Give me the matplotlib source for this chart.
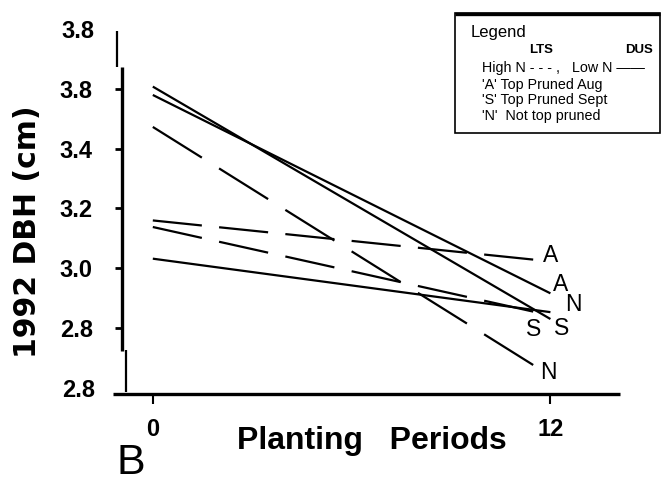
import matplotlib
matplotlib.use("Agg")
import math
import matplotlib.pyplot as plt
from matplotlib.lines import Line2D
from matplotlib.patches import Rectangle

# ---------------- data ----------------
periods = [0, 12]
# LTS (High N, dashed)
lts_A = [3.160, 3.023]
lts_S = [3.138, 2.842]
lts_N = [3.473, 2.640]
# DUS (Low N, solid)
dus_A = [3.580, 2.916]
dus_S = [3.608, 2.830]
dus_N = [3.032, 2.853]

ytick_vals = [3.6, 3.4, 3.2, 3.0, 2.8]
ytick_labels = ["3.8", "3.4", "3.2", "3.0", "2.8"]
yminor_vals = [3.8, 2.6]
yminor_labels = ["3.8", "2.8"]
xtick_vals = [0, 12]
xtick_labels = ["0", "12"]

W, H, DPI = 661, 484, 100
plt.rcParams['lines.scale_dashes'] = False
fig = plt.figure(figsize=(W / DPI, H / DPI), dpi=DPI)

def fx(px):
    return px / W

def fy(py):
    return 1 - py / H

ax_left, ax_right, ax_top, ax_bot = 122, 620, 29.25, 394
ax = fig.add_axes([fx(ax_left), fy(ax_bot), (ax_right - ax_left) / W, (ax_bot - ax_top) / H])
ax.set_xlim(-0.93, 14.1)
ax.set_ylim(2.579, 3.8)
for s in ax.spines.values():
    s.set_visible(False)

lw = 1.6
tick_font = dict(family="Liberation Sans", weight="bold", size=17)

# lines
ax.plot(periods, dus_A, color="black", lw=lw, solid_capstyle="butt")
ax.plot(periods, dus_S, color="black", lw=lw, solid_capstyle="butt")
ax.plot(periods, dus_N, color="black", lw=lw, solid_capstyle="butt")
dashed = []
for ys in (lts_A, lts_S, lts_N):
    ln, = ax.plot(periods, ys, color="black", lw=lw, dash_capstyle="butt")
    dashed.append(ln)

# dash pattern: 6 periods spread over the x-span (as in the scan)
fig.canvas.draw()
for ln in dashed:
    xd, yd = ln.get_data()
    p0 = ax.transData.transform((xd[0], yd[0]))
    p1 = ax.transData.transform((xd[1], yd[1]))
    length_px = math.hypot(p1[0] - p0[0], p1[1] - p0[1])
    period_pt = length_px / 6 * 72 / DPI
    ln.set_linestyle((0, (period_pt * 0.74, period_pt * 0.26)))

# end labels
lab_font = dict(family="Liberation Sans", size=16.5)
def lab(text, x, y, dx, dy):
    ax.annotate(text, (x, y), xytext=(dx * 0.72, -dy * 0.72), textcoords="offset points",
                ha="center", va="center", **lab_font)

lab("A", 12, lts_A[1], 0, -6)
lab("A", 12, dus_A[1], 10, -9)
lab("N", 12, dus_N[1], 23, -8)
lab("S", 12, dus_S[1], 11, 9)
lab("S", 12, lts_S[1], -17, 14)
lab("N", 12, lts_N[1], -2, -3)

# ticks
ax.set_yticks(ytick_vals, ytick_labels, **tick_font)
ax.set_yticks(yminor_vals, yminor_labels, minor=True, **tick_font)
ax.tick_params(axis="y", which="major", direction="out", length=5, width=2, pad=16)
ax.tick_params(axis="y", which="minor", length=0, pad=16 + 5 * 0.72)
ax.set_xticks(xtick_vals, xtick_labels, **tick_font)
ax.tick_params(axis="x", which="major", direction="out", length=7, width=1.5, pad=10)

# axis labels
ax.set_xlabel("Planting   Periods", family="Liberation Sans", weight="bold", size=23, va="baseline")
ax.xaxis.set_label_coords((372 - ax_left) / (ax_right - ax_left), (ax_bot - 449) / (ax_bot - ax_top))
ax.set_ylabel("1992 DBH (cm)", family="DejaVu Sans", weight="bold", size=21.5, va="center", ha="center")
ax.yaxis.set_label_coords((28 - ax_left) / (ax_right - ax_left), (ax_bot - 231.5) / (ax_bot - ax_top))

# axis lines (scanned look)
def fline(x0, y0, x1, y1, w):
    fig.add_artist(Line2D([fx(x0), fx(x1)], [fy(y0), fy(y1)], transform=fig.transFigure,
                          color="black", lw=w, solid_capstyle="butt"))

fline(113, 394, 620, 394, 2.4)
fline(122, 67, 122, 351, 2.4)
fline(117.5, 31, 117.5, 67, 1.6)
fline(126, 350, 126, 392, 1.6)

# legend box
fig.add_artist(Rectangle((fx(455), fy(133)), 205 / W, 120 / H, transform=fig.transFigure,
                         fill=False, edgecolor="black", lw=1.2))
fline(455, 13.5, 660, 13.5, 2.4)
lf = dict(family="Liberation Sans", size=10.3)
fig.text(fx(471), fy(33), "Legend", family="Liberation Sans", size=12, va="center", ha="left")
fig.text(fx(541), fy(50), "LTS", family="Liberation Sans", weight="bold", size=9.5, va="center", ha="center")
fig.text(fx(639), fy(50), "DUS", family="Liberation Sans", weight="bold", size=9.5, va="center", ha="center")
fig.text(fx(482), fy(68), "High N - - - ,   Low N \u2014\u2014", va="center", ha="left", **lf)
fig.text(fx(482), fy(85), "'A' Top Pruned Aug", va="center", ha="left", **lf)
fig.text(fx(482), fy(100), "'S' Top Pruned Sept", va="center", ha="left", **lf)
fig.text(fx(482), fy(116), "'N'  Not top pruned", va="center", ha="left", **lf)

# panel letter
fig.text(fx(117), fy(483), "B", family="Liberation Sans", size=31, va="bottom", ha="left")

fig.savefig("out.png", dpi=DPI)
